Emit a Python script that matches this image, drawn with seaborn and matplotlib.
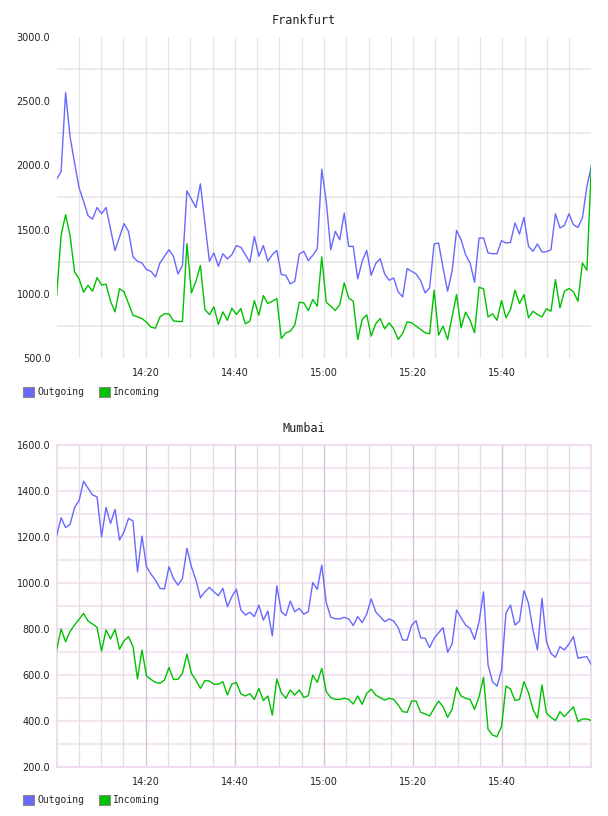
## Traffic charts for two sites, one sample per minute between 14:00 and 16:00
import numpy as np
import pandas as pd
import matplotlib
matplotlib.use('Agg')
import matplotlib.pyplot as plt
import matplotlib.dates as mdates
from matplotlib.patches import Patch
import seaborn as sns

## Values
frankfurt_outgoing = [1893, 1950, 2566, 2220, 2020, 1825, 1720, 1608, 1582, 1672,
                      1623, 1672, 1504, 1336, 1442, 1546, 1486, 1287, 1253, 1240,
                      1188, 1175, 1131, 1240, 1292, 1343, 1292, 1154, 1219, 1802,
                      1737, 1672, 1856, 1550, 1253, 1318, 1214, 1312, 1271, 1305,
                      1375, 1362, 1305, 1245, 1447, 1292, 1375, 1253, 1305, 1338,
                      1149, 1144, 1077, 1097, 1310, 1331, 1258, 1299, 1351, 1970,
                      1719, 1343, 1486, 1421, 1628, 1369, 1369, 1116, 1253, 1338,
                      1144, 1235, 1274, 1154, 1105, 1123, 1015, 976, 1196, 1175,
                      1154, 1102, 1007, 1046, 1388, 1395, 1201, 1020, 1175, 1494,
                      1421, 1305, 1240, 1090, 1434, 1434, 1318, 1312, 1312, 1414,
                      1395, 1400, 1551, 1465, 1595, 1369, 1331, 1388, 1325, 1328,
                      1343, 1623, 1512, 1533, 1623, 1538, 1517, 1590, 1836, 1996]
frankfurt_incoming = [981, 1455, 1615, 1452, 1170, 1116, 1012, 1066, 1020, 1126,
                      1069, 1074, 942, 859, 1040, 1015, 924, 833, 820, 807,
                      779, 740, 732, 820, 844, 844, 789, 784, 784, 1390,
                      1007, 1097, 1219, 877, 838, 898, 761, 859, 794, 888,
                      838, 885, 766, 787, 947, 833, 986, 924, 942, 963,
                      652, 696, 709, 756, 934, 929, 869, 955, 903, 1287,
                      934, 903, 870, 915, 1085, 968, 942, 644, 800, 836,
                      670, 766, 807, 727, 774, 727, 644, 691, 781, 774,
                      748, 722, 696, 688, 1028, 678, 748, 644, 820, 994,
                      735, 857, 794, 696, 1051, 1038, 820, 844, 794, 947,
                      813, 877, 1028, 924, 994, 813, 864, 838, 820, 883,
                      864, 1110, 890, 1020, 1041, 1015, 942, 1240, 1183, 2009]
mumbai_outgoing = [1204, 1284, 1241, 1255, 1329, 1358, 1443, 1412, 1383, 1375,
                   1201, 1329, 1259, 1320, 1187, 1223, 1281, 1270, 1049, 1204,
                   1071, 1039, 1013, 977, 974, 1071, 1020, 991, 1020, 1151,
                   1071, 1013, 936, 962, 981, 962, 945, 977, 897, 941,
                   973, 883, 861, 873, 854, 904, 839, 878, 770, 988,
                   875, 858, 922, 875, 890, 865, 875, 1002, 973, 1078,
                   915, 851, 845, 844, 851, 844, 815, 854, 828, 865,
                   931, 875, 854, 832, 844, 835, 806, 752, 752, 817,
                   836, 762, 760, 719, 760, 784, 806, 699, 735, 883,
                   849, 817, 803, 755, 832, 962, 644, 571, 552, 622,
                   871, 904, 817, 835, 967, 912, 796, 709, 933, 745,
                   694, 677, 723, 709, 735, 767, 673, 677, 680, 644]
mumbai_incoming = [709, 800, 745, 789, 818, 842, 868, 835, 822, 807,
                   704, 796, 757, 799, 712, 749, 767, 723, 583, 709,
                   596, 581, 568, 564, 578, 633, 581, 581, 607, 691,
                   607, 578, 542, 576, 574, 560, 560, 571, 513, 561,
                   568, 518, 509, 519, 494, 542, 489, 509, 426, 583,
                   523, 499, 535, 513, 535, 503, 510, 600, 568, 629,
                   528, 502, 494, 494, 499, 494, 474, 509, 473, 520,
                   539, 513, 502, 491, 499, 494, 470, 441, 438, 487,
                   487, 438, 431, 422, 455, 487, 462, 416, 451, 547,
                   509, 499, 494, 451, 506, 590, 364, 339, 332, 376,
                   552, 539, 489, 494, 571, 523, 451, 412, 557, 434,
                   416, 402, 441, 419, 441, 462, 397, 409, 409, 402]

series_names = ['Outgoing', 'Incoming']
series_colors = ['#6868ff', '#00c000']
city_names = ['Frankfurt', 'Mumbai']
x_tick_labels = ['14:20', '14:40', '15:00', '15:20', '15:40']
frankfurt_yticks = [500, 1000, 1500, 2000, 2500, 3000]
mumbai_yticks = [200, 400, 600, 800, 1000, 1200, 1400, 1600]

day = '2013-05-06 '
times = pd.date_range(day + '14:00', day + '16:00', periods=len(frankfurt_outgoing))


def make_frame(outgoing, incoming):
    wide = pd.DataFrame({'time': times, 'Outgoing': outgoing, 'Incoming': incoming})
    return wide.melt(id_vars='time', var_name='series', value_name='value')


frankfurt = make_frame(frankfurt_outgoing, frankfurt_incoming)
mumbai = make_frame(mumbai_outgoing, mumbai_incoming)

sns.set_style('white')
plt.rcParams['font.family'] = ['DejaVu Sans']

fig = plt.figure(figsize=(6.08, 8.16), dpi=100)
ax_top = fig.add_axes([0.0931, 0.5613, 0.8796, 0.3934])
ax_bot = fig.add_axes([0.0931, 0.0600, 0.8796, 0.3946])

x_start = mdates.date2num(pd.Timestamp(day + '14:00'))
x_end = mdates.date2num(pd.Timestamp(day + '16:00'))
five_min = mdates.date2num(pd.date_range(day + '14:05', day + '15:55', freq='5min'))
tick_times = mdates.date2num(pd.to_datetime([day + t for t in x_tick_labels]))
palette = dict(zip(series_names, series_colors))

# Frankfurt: plain grey grid, no frame, grid lines half way between labels
sns.lineplot(data=frankfurt, x='time', y='value', hue='series', hue_order=series_names,
             palette=palette, linewidth=1.0, legend=False, ax=ax_top, zorder=3)
ax_top.set_ylim(500, 3000)
ax_top.hlines(np.array(frankfurt_yticks[:-1]) + 250, x_start, x_end,
              color='#e8e8e8', lw=1.2, zorder=0)
ax_top.vlines(five_min, 500, 3000, color='#e4e4e4', lw=0.9, zorder=0)
for s in ax_top.spines.values():
    s.set_visible(False)

# Mumbai: pink grid with darker lines every 20 minutes
sns.lineplot(data=mumbai, x='time', y='value', hue='series', hue_order=series_names,
             palette=palette, linewidth=1.0, legend=False, ax=ax_bot, zorder=3)
ax_bot.set_ylim(200, 1600)
ax_bot.hlines(np.arange(300, 1600, 100), x_start, x_end, color='#f2e6f2', lw=1.5, zorder=0)
ax_bot.vlines(five_min, 200, 1600, color='#e6dce6', lw=0.9, zorder=0)
ax_bot.vlines(tick_times, 200, 1600, color='#d8c2d8', lw=0.9, zorder=1)
for s in ax_bot.spines.values():
    s.set_color('#ecd6ec')
    s.set_linewidth(1.2)

for ax, yticks in [(ax_top, frankfurt_yticks), (ax_bot, mumbai_yticks)]:
    ax.set_xlim(x_start, x_end)
    ax.set_xticks(tick_times)
    ax.set_xticklabels(x_tick_labels)
    ax.set_yticks(yticks)
    ax.set_yticklabels(['%.1f' % v for v in yticks])
    ax.set_xlabel('')
    ax.set_ylabel('')
    ax.tick_params(axis='both', length=0, labelsize=7, colors='#222222')
    ax.tick_params(axis='y', pad=4.5)
    ax.tick_params(axis='x', pad=7)

# titles centred on the figure
fig.text(0.5, 1 - 20 / 816, city_names[0], ha='center', va='center',
         family='DejaVu Sans Mono', fontsize=8.5, color='#222222')
fig.text(0.5, 1 - 428 / 816, city_names[1], ha='center', va='center',
         family='DejaVu Sans Mono', fontsize=8.5, color='#222222')

# legends under each chart
handles = [Patch(facecolor=c, edgecolor='#888888', linewidth=0.8) for c in series_colors]
for y in [1 - 392 / 816, 1 - 800 / 816]:
    fig.legend(handles, series_names, loc='center left', bbox_to_anchor=(0.038, y),
               ncol=2, frameon=False, borderpad=0, borderaxespad=0,
               handlelength=1.15, handleheight=1.15, handletextpad=0.3,
               columnspacing=1.5, prop={'family': 'DejaVu Sans Mono', 'size': 7})

fig.savefig('out.png', dpi=100)
